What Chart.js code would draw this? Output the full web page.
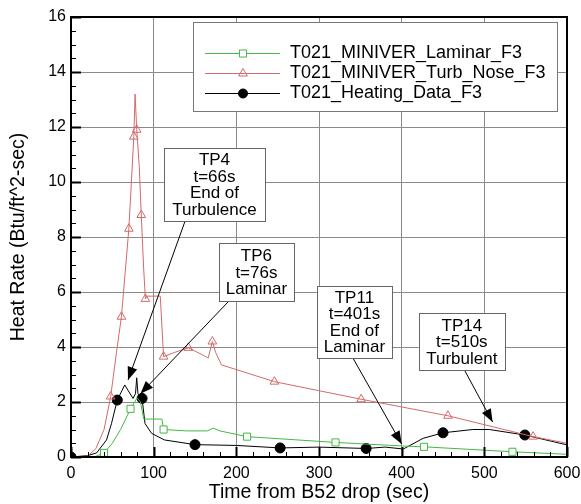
<!DOCTYPE html>
<html>
<head>
<meta charset="utf-8">
<script src="https://cdn.jsdelivr.net/npm/chart.js@4.4.0/dist/chart.umd.min.js"></script>
<style>
  body { margin: 0; background: #fff; }
  canvas { display: block; }
</style>
</head>
<body>
<canvas id="chart" width="581" height="504"></canvas>
<script>
// time (sec) / heat rate (Btu/ft^2-sec)
const lamT = [0, 30, 40, 50, 60, 72, 80, 84, 88, 110, 112, 140, 165, 172, 180, 213, 320, 401, 427, 534, 600];
const lamV = [0, 0.02, 0.15, 0.5, 1.0, 1.75, 2.15, 2.0, 1.38, 1.38, 1.0, 0.95, 0.95, 1.05, 0.95, 0.74, 0.53, 0.4, 0.37, 0.19, 0.1];
const lamMarks = [40, 72, 112, 213, 320, 427, 534];

const turbT = [0, 20, 30, 40, 48, 55, 61, 70, 76, 77.5, 79.5, 82.5, 85, 88, 90, 92, 108, 112, 125, 142, 160, 166, 171, 175, 182, 246, 351, 456, 559, 600];
const turbV = [0, 0.03, 0.3, 1.0, 2.2, 3.8, 5.1, 8.3, 11.65, 13.2, 11.9, 10.6, 8.8, 6.8, 5.75, 5.85, 5.85, 3.65, 3.8, 3.97, 3.7, 3.6, 4.2, 3.8, 3.35, 2.74, 2.1, 1.5, 0.74, 0.5];
const turbMarks = [48, 61, 70, 76, 79.5, 85, 90, 112, 142, 171, 246, 351, 456, 559];

const heatT = [0, 20, 31, 43, 49, 56, 65, 75, 78, 79.5, 81, 86, 89.5, 97.5, 113, 150, 200, 253, 300, 357, 380, 402, 426, 450, 486, 506, 549, 600];
const heatV = [0, 0.05, 0.15, 0.62, 1.22, 2.07, 2.62, 2.13, 2.3, 2.88, 2.3, 2.13, 1.22, 0.86, 0.62, 0.45, 0.42, 0.33, 0.36, 0.31, 0.36, 0.29, 0.68, 0.88, 1.0, 1.0, 0.8, 0.44];
const heatMarks = [0, 56, 86, 150, 253, 357, 450, 549];

const seriesNames = ['T021_MINIVER_Laminar_F3', 'T021_MINIVER_Turb_Nose_F3', 'T021_Heating_Data_F3'];

const xTicks = [0, 100, 200, 300, 400, 500, 600];
const yTicks = [0, 2, 4, 6, 8, 10, 12, 14, 16];

// callouts: text, box corners (t, v), arrow tail and tip (t, v)
const notes = [['TP4', 't=66s', 'End of', 'Turbulence'], ['TP6', 't=76s', 'Laminar'], ['TP11', 't=401s', 'End of', 'Laminar'], ['TP14', 't=510s', 'Turbulent']];
const noteBox = [[112.5, 11.24, 234.6, 8.58], [179, 7.78, 269.6, 5.67], [297.5, 6.22, 388.2, 3.6], [420.8, 5.24, 524.8, 3.16]];
const noteTail = [[138, 8.58], [191, 5.67], [341, 3.6], [476, 3.16]];
const noteTip = [[69, 2.8], [84, 2.3], [400, 0.47], [510, 1.27]];

const FONT = "'Liberation Sans', Arial, sans-serif";
const GREEN = '#45b845', RED = '#d46a69', BLACK = '#000';

function pts(ts, vs) { return ts.map((t, i) => ({x: t, y: vs[i]})); }
function marks(list, r) { return c => (c.raw && list.includes(c.raw.x)) ? r : 0; }

const overlay = {
  id: 'overlay',
  afterDatasetsDraw(chart) {
    const {ctx, chartArea: a, scales: {x, y}} = chart;
    ctx.save();
    ctx.strokeStyle = '#000';
    // inward ticks
    for (let v = 0; v <= 16; v += 0.5) {
      const py = Math.round(y.getPixelForValue(v)) + 0.5;
      const major = v % 2 === 0;
      ctx.lineWidth = major ? 2 : 1;
      ctx.beginPath(); ctx.moveTo(a.left, py); ctx.lineTo(a.left + (major ? 10 : 5), py); ctx.stroke();
    }
    for (let t = 0; t <= 600; t += 20) {
      const px = Math.round(x.getPixelForValue(t)) + 0.5;
      const major = t % 100 === 0;
      ctx.lineWidth = major ? 2 : 1;
      ctx.beginPath(); ctx.moveTo(px, a.bottom); ctx.lineTo(px, a.bottom - (major ? 10 : 5)); ctx.stroke();
    }

    // callouts
    ctx.font = '17px ' + FONT;
    ctx.textAlign = 'center';
    ctx.textBaseline = 'middle';
    notes.forEach((lines, i) => {
      const [t0, v0, t1, v1] = noteBox[i];
      const bx = x.getPixelForValue(t0), by = y.getPixelForValue(v0);
      const bw = x.getPixelForValue(t1) - bx, bh = y.getPixelForValue(v1) - by;
      const tx = x.getPixelForValue(noteTail[i][0]), ty = y.getPixelForValue(noteTail[i][1]);
      const hx = x.getPixelForValue(noteTip[i][0]), hy = y.getPixelForValue(noteTip[i][1]);
      ctx.lineWidth = 1; ctx.strokeStyle = '#000';
      ctx.beginPath(); ctx.moveTo(tx, ty); ctx.lineTo(hx, hy); ctx.stroke();
      const ang = Math.atan2(hy - ty, hx - tx), L = 13, W = 5;
      ctx.fillStyle = '#000';
      ctx.beginPath();
      ctx.moveTo(hx, hy);
      ctx.lineTo(hx - L * Math.cos(ang) + W * Math.sin(ang), hy - L * Math.sin(ang) - W * Math.cos(ang));
      ctx.lineTo(hx - L * Math.cos(ang) - W * Math.sin(ang), hy - L * Math.sin(ang) + W * Math.cos(ang));
      ctx.closePath(); ctx.fill();
      ctx.fillStyle = '#fff';
      ctx.fillRect(bx, by, bw, bh);
      ctx.strokeStyle = '#666';
      ctx.strokeRect(Math.round(bx) + 0.5, Math.round(by) + 0.5, Math.round(bw), Math.round(bh));
      ctx.fillStyle = '#000';
      const lh = 16.5, cx = bx + bw / 2, cy = by + bh / 2;
      lines.forEach((s, k) => ctx.fillText(s, cx, cy + (k - (lines.length - 1) / 2) * lh + 1));
    });

    // legend
    const lx = a.left + 122, ly = a.top + 5, lw = 364, lh = 89;
    ctx.fillStyle = '#fff';
    ctx.fillRect(lx, ly, lw, lh);
    ctx.strokeStyle = '#777'; ctx.lineWidth = 1;
    ctx.strokeRect(lx + 0.5, ly + 0.5, lw, lh);
    ctx.font = '18px ' + FONT;
    ctx.textAlign = 'left';
    chart.data.datasets.forEach((ds, i) => {
      const ry = ly + 31 + i * 20;
      ctx.strokeStyle = ds.borderColor; ctx.lineWidth = 1;
      ctx.beginPath(); ctx.moveTo(lx + 12, ry + 0.5); ctx.lineTo(lx + 87, ry + 0.5); ctx.stroke();
      ctx.fillStyle = ds.pointBackgroundColor;
      ctx.strokeStyle = ds.borderColor;
      Chart.helpers.drawPoint(ctx, {pointStyle: ds.pointStyle, radius: ds.legendRadius, rotation: 0, borderWidth: 1}, lx + 50, ry + 0.5);
      ctx.fillStyle = '#000';
      ctx.fillText(ds.label, lx + 97, ry);
    });

    // frame
    ctx.strokeStyle = '#000'; ctx.lineWidth = 2;
    ctx.strokeRect(a.left, a.top, a.right - a.left, a.bottom - a.top);
    ctx.restore();
  }
};

new Chart(document.getElementById('chart'), {
  type: 'line',
  data: {
    datasets: [
      {label: seriesNames[0], data: pts(lamT, lamV), borderColor: GREEN, borderWidth: 1,
       pointStyle: 'rect', pointRadius: marks(lamMarks, 5), legendRadius: 5,
       pointBorderColor: GREEN, pointBackgroundColor: '#fff', pointBorderWidth: 1},
      {label: seriesNames[1], data: pts(turbT, turbV), borderColor: RED, borderWidth: 1,
       pointStyle: 'triangle', pointRadius: marks(turbMarks, 5), legendRadius: 5,
       pointBorderColor: RED, pointBackgroundColor: 'rgba(255,255,255,0)', pointBorderWidth: 1},
      {label: seriesNames[2], data: pts(heatT, heatV), borderColor: BLACK, borderWidth: 1,
       pointStyle: 'circle', pointRadius: marks(heatMarks, 5), legendRadius: 4.5,
       pointBorderColor: BLACK, pointBackgroundColor: BLACK, pointBorderWidth: 1}
    ]
  },
  options: {
    responsive: false,
    animation: false,
    devicePixelRatio: 1,
    layout: {autoPadding: false, padding: {left: 0, top: 17, right: 14, bottom: 0}},
    elements: {line: {tension: 0}},
    plugins: {legend: {display: false}, tooltip: {enabled: false}},
    scales: {
      x: {
        type: 'linear', min: 0, max: 600,
        afterBuildTicks: s => { s.ticks = xTicks.map(v => ({value: v})); },
        afterFit: s => { s.height = 47; s.paddingLeft = 0; s.paddingRight = 0; },
        ticks: {color: '#000', font: {family: FONT, size: 16}, padding: 7, maxRotation: 0},
        grid: {color: '#8a8a8a', lineWidth: 1, drawTicks: false},
        border: {display: false},
        title: {display: true, text: 'Time from B52 drop (sec)', color: '#000', font: {family: FONT, size: 19.5}, padding: {top: 0, bottom: 0}}
      },
      y: {
        min: 0, max: 16,
        afterBuildTicks: s => { s.ticks = yTicks.map(v => ({value: v})); },
        afterFit: s => { s.width = 71; s.paddingTop = 0; s.paddingBottom = 0; },
        ticks: {color: '#000', font: {family: FONT, size: 16}, padding: 5},
        grid: {color: '#8a8a8a', lineWidth: 1, drawTicks: false},
        border: {display: false},
        title: {display: true, text: 'Heat Rate (Btu/ft^2-sec)', color: '#000', font: {family: FONT, size: 19.5}, padding: {top: 7, bottom: 0}}
      }
    }
  },
  plugins: [overlay]
});
</script>
</body>
</html>
